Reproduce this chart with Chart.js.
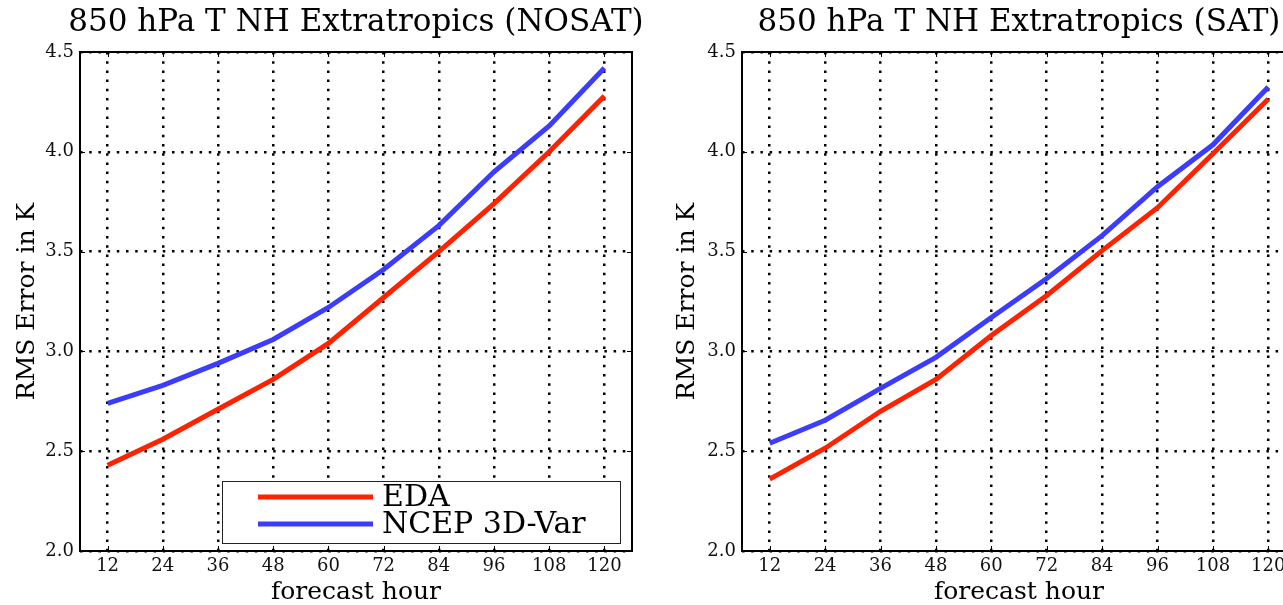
<!DOCTYPE html>
<html>
<head>
<meta charset="utf-8">
<script src="https://cdn.jsdelivr.net/npm/chart.js@4.4.1/dist/chart.umd.min.js"></script>
<style>
  html, body { margin: 0; padding: 0; background: #fff; overflow: hidden; width: 1283px; height: 605px; }
  canvas { position: absolute; top: 0; }
  #nosat { left: 0; }
  #sat   { left: 660px; }
</style>
</head>
<body>
<canvas id="nosat" width="660" height="605"></canvas>
<canvas id="sat" width="660" height="605"></canvas>
<script>
document.addEventListener("DOMContentLoaded", () => {

// ─── Dados ───────────────────────────────────────────────────────────────────

const hours     = [12, 24, 36, 48, 60, 72, 84, 96, 108, 120];
const edaNosat  = [2.43, 2.56, 2.71, 2.86, 3.04, 3.27, 3.50, 3.74, 4.00, 4.28];
const ncepNosat = [2.74, 2.83, 2.94, 3.06, 3.22, 3.41, 3.63, 3.90, 4.13, 4.42];
const edaSat    = [2.36, 2.515, 2.70, 2.86, 3.08, 3.28, 3.505, 3.72, 3.99, 4.265];
const ncepSat   = [2.54, 2.655, 2.815, 2.97, 3.17, 3.365, 3.58, 3.825, 4.035, 4.325];
const yTicks    = [2.0, 2.5, 3.0, 3.5, 4.0, 4.5];
const seriesNames = ["EDA", "NCEP 3D-Var"];

const FONT  = "'DejaVu Serif', serif";
const RED   = "#ff2200";
const BLUE  = "#3c3cff";

// ─── Plugins ─────────────────────────────────────────────────────────────────

// título centrado sobre a área do gráfico, sem limite de largura
const axesTitle = {
  id: "axesTitle",
  afterDraw(chart, args, opts) {
    const { ctx, chartArea: a } = chart;
    ctx.save();
    ctx.font = "31px " + FONT;
    ctx.fillStyle = "#000";
    ctx.textAlign = "center";
    ctx.textBaseline = "middle";
    ctx.fillText(opts.text, (a.left + a.right) / 2, 23);
    ctx.restore();
  }
};

// moldura dos eixos + ticks internos (estilo matplotlib)
const framePlugin = {
  id: "frame",
  afterDraw(chart) {
    const { ctx, chartArea: a, scales } = chart;
    ctx.save();
    ctx.strokeStyle = "#000";
    ctx.lineWidth = 1;
    ctx.beginPath();
    scales.x.ticks.forEach((_, i) => {
      const x = Math.round(scales.x.getPixelForTick(i)) + 0.5;
      ctx.moveTo(x, a.top); ctx.lineTo(x, a.top + 5);
      ctx.moveTo(x, a.bottom); ctx.lineTo(x, a.bottom - 5);
    });
    scales.y.ticks.forEach((_, i) => {
      const y = Math.round(scales.y.getPixelForTick(i)) + 0.5;
      ctx.moveTo(a.left, y); ctx.lineTo(a.left + 5, y);
      ctx.moveTo(a.right, y); ctx.lineTo(a.right - 5, y);
    });
    ctx.stroke();
    ctx.lineWidth = 2;
    ctx.strokeRect(a.left, a.top, a.right - a.left, a.bottom - a.top);
    ctx.restore();
  }
};

// legenda dentro da área do gráfico (canto inferior direito)
const legendBox = {
  id: "legendBox",
  afterDraw(chart, args, opts) {
    if (!opts.show) return;
    const { ctx, chartArea: a } = chart;
    const left = a.left + 142, right = a.right - 12;
    const bottom = a.bottom - 8, top = bottom - 62;
    ctx.save();
    ctx.fillStyle = "#fff";
    ctx.fillRect(left, top, right - left, bottom - top);
    ctx.strokeStyle = "#222";
    ctx.lineWidth = 1;
    ctx.strokeRect(left + 0.5, top + 0.5, right - left, bottom - top);
    ctx.font = "30px " + FONT;
    ctx.textBaseline = "middle";
    chart.data.datasets.forEach((ds, i) => {
      const y = top + 16 + i * 27;
      ctx.strokeStyle = ds.borderColor;
      ctx.lineWidth = 5;
      ctx.beginPath();
      ctx.moveTo(left + 36, y);
      ctx.lineTo(left + 151, y);
      ctx.stroke();
      ctx.fillStyle = "#000";
      ctx.fillText(ds.label, left + 160, y + 1);
    });
    ctx.restore();
  }
};

// ─── Gráfico ─────────────────────────────────────────────────────────────────

function makeChart(canvas, titulo, eda, ncep, yWidth, padRight, showLegend) {
  return new Chart(canvas, {
    type: "line",
    data: {
      labels: hours,
      datasets: [
        { label: seriesNames[0], data: eda,  borderColor: RED,  borderWidth: 5, pointRadius: 0, tension: 0 },
        { label: seriesNames[1], data: ncep, borderColor: BLUE, borderWidth: 5, pointRadius: 0, tension: 0 },
      ]
    },
    plugins: [axesTitle, framePlugin, legendBox],
    options: {
      responsive: false,
      animation: false,
      layout: { padding: { left: 0, right: padRight, top: 52, bottom: 0 } },
      plugins: {
        legend: { display: false },
        tooltip: { enabled: false },
        title: { display: false },
        axesTitle: { text: titulo },
        legendBox: { show: showLegend },
      },
      scales: {
        x: {
          type: "category",
          offset: true,
          grid: { offset: false, color: "#000", lineWidth: 2.5, drawTicks: false },
          border: { display: false, dash: [2.5, 6.7] },
          ticks: { color: "#111", font: { family: FONT, size: 18 }, padding: 5, maxRotation: 0, autoSkip: false },
          title: { display: true, text: "forecast hour", color: "#000", font: { family: FONT, size: 25, lineHeight: 1 }, padding: { top: 0, bottom: 0 } },
          afterFit: s => { s.height = 54; },
        },
        y: {
          min: 2,
          max: 4.5,
          afterBuildTicks: s => { s.ticks = yTicks.map(v => ({ value: v })); },
          grid: { color: "#000", lineWidth: 2.5, drawTicks: false },
          border: { display: false, dash: [2.5, 6.7] },
          ticks: { color: "#111", font: { family: FONT, size: 18 }, padding: 6, callback: v => v.toFixed(1) },
          title: { display: true, text: "RMS Error in K", color: "#000", font: { family: FONT, size: 25, lineHeight: 1 }, padding: { top: 15, bottom: 0 } },
          afterFit: s => { s.width = yWidth; },
        }
      }
    }
  });
}

makeChart(document.getElementById("nosat"), "850 hPa T NH Extratropics (NOSAT)", edaNosat, ncepNosat, 80, 28, true);
makeChart(document.getElementById("sat"),   "850 hPa T NH Extratropics (SAT)",   edaSat,   ncepSat,   82, 24, false);

}); // DOMContentLoaded
</script>
</body>
</html>
